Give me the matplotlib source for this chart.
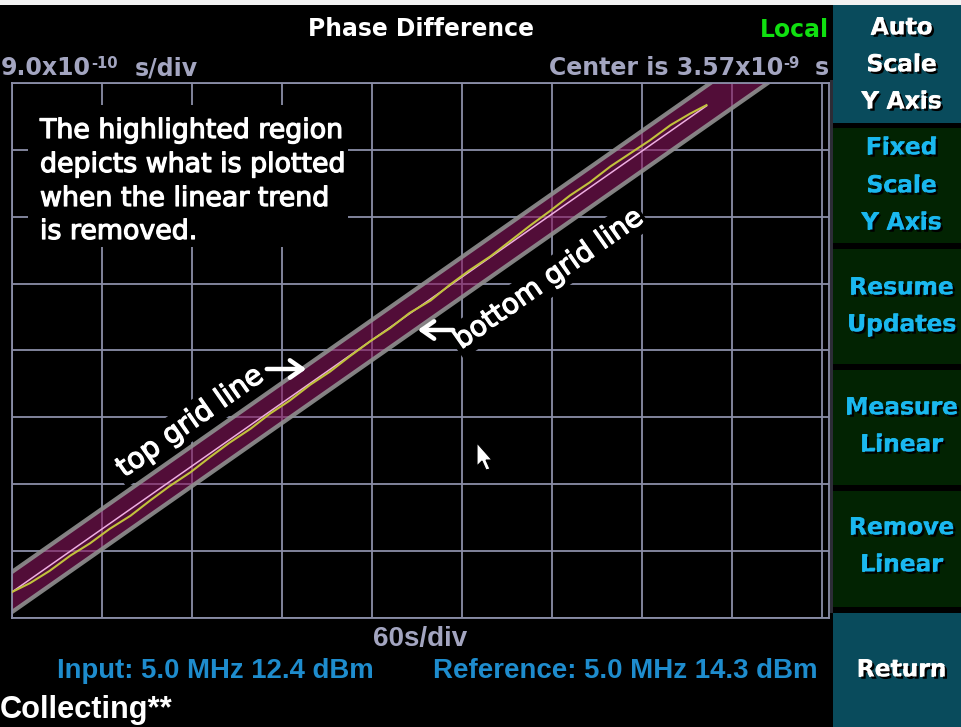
import numpy as np
import matplotlib
matplotlib.use("Agg")
import matplotlib.pyplot as plt
from matplotlib.patches import Rectangle, Polygon, FancyArrowPatch
import matplotlib.patheffects as pe

# ---- measurement record -------------------------------------------------
sec_per_div = 60          # horizontal scale
ns_per_div = 0.9          # vertical scale (9.0x10^-10 s/div)
center_ns = 3.57          # screen centre (3.57x10^-9 s)
n_xdiv, n_ydiv = 9, 8

fit_intercept_ns = 0.32   # linear trend of the phase difference
fit_slope_ns_per_s = 0.01413
band_halfwidth_ns = 0.27  # span that remains visible once the trend is removed
t_end_s = 463

times_s = [0, 12, 25, 39, 52, 65, 79, 92, 105, 119, 132, 145, 159, 172, 185,
           199, 212, 225, 239, 252, 265, 279, 292, 305, 319, 332, 345, 359,
           372, 385, 399, 412, 425, 439, 452, 463]
residual_ns = [0.00, -0.05, -0.07, -0.06, -0.08, -0.07, -0.09, -0.07, -0.06,
               -0.07, -0.05, -0.04, -0.05, -0.03, -0.04, -0.02, -0.03, -0.01,
               0.00, -0.01, 0.01, -0.02, 0.01, 0.02, 0.01, 0.03, 0.05, 0.06,
               0.08, 0.07, 0.09, 0.08, 0.07, 0.08, 0.05, 0.01]

title = "Phase Difference"
status = "Local"
input_info = "Input: 5.0 MHz 12.4 dBm"
reference_info = "Reference: 5.0 MHz 14.3 dBm"
state_info = "Collecting**"
buttons = [["Auto", "Scale", "Y Axis"], ["Fixed", "Scale", "Y Axis"],
           ["Resume", "Updates"], ["Measure", "Linear"],
           ["Remove", "Linear"], ["Return"]]
note_lines = ["The highlighted region", "depicts what is plotted",
              "when the linear trend", "is removed."]

# ---- colours ----------------------------------------------------------
GRID = "#8b8ea8"
LAV = "#a3a5c0"
BLUE = "#1e8ccd"
CYAN = "#1ab8ef"
TEAL = "#094b5c"
DKGREEN = "#022302"

W, H = 961, 727
fig = plt.figure(figsize=(W / 100, H / 100), dpi=100, facecolor="black")
R = fig.canvas.get_renderer()


def fx(x):
    return x / W


def fy(y):
    return 1 - y / H


def rect(x0, y0, x1, y1, color, z=1):
    fig.add_artist(Rectangle((fx(x0), fy(y1)), (x1 - x0) / W, (y1 - y0) / H,
                             transform=fig.transFigure, facecolor=color,
                             edgecolor="none", zorder=z))


def text(x, y, s, width=None, size=16, **kw):
    kw.setdefault("va", "baseline")
    t = fig.text(fx(x), fy(y), s, fontsize=size, **kw)
    if width is not None:
        w = t.get_window_extent(R).width
        t.set_fontsize(size * width / w)
    return t


def run_row(x, y, pieces, anchor="left", **kw):
    """pieces: (string, size, raise_px, gap_before_px)"""
    arts, widths = [], []
    for s, size, dy, gap in pieces:
        t = fig.text(0, 0, s, fontsize=size, va="baseline", ha="left", **kw)
        arts.append((t, dy, gap))
        widths.append(t.get_window_extent(R).width)
    total = sum(widths) + sum(g for _, _, g in arts)
    cur = x if anchor == "left" else x - total
    for (t, dy, gap), w in zip(arts, widths):
        cur += gap
        t.set_position((fx(cur), fy(y - dy)))
        cur += w


# ---- graticule ----------------------------------------------------------
ax = fig.add_axes([fx(12), fy(618), (829 - 12) / W, (618 - 83) / H])
ax.set_facecolor("black")
x_max = sec_per_div * n_xdiv * (829 - 12) / (822 - 12)
ax.set_xlim(0, x_max)
ax.set_ylim(center_ns - ns_per_div * n_ydiv / 2, center_ns + ns_per_div * n_ydiv / 2)
ax.set_xticks(np.arange(0, sec_per_div * n_xdiv + 1, sec_per_div))
ax.set_yticks(center_ns + ns_per_div * np.arange(-n_ydiv // 2, n_ydiv // 2 + 1))
ax.set_axisbelow(True)
ax.grid(True, color=GRID, lw=1.3)
ax.tick_params(length=0, labelbottom=False, labelleft=False)
for sp in ax.spines.values():
    sp.set_color(GRID)
    sp.set_linewidth(1.3)

# highlighted band around the linear trend
tb = np.array([-sec_per_div, x_max + sec_per_div])
fb = fit_intercept_ns + fit_slope_ns_per_s * tb
ax.fill_between(tb, fb - band_halfwidth_ns, fb + band_halfwidth_ns,
                color="#8a165f", alpha=0.6, lw=0, zorder=1)
for sgn in (-1, 1):
    ax.plot(tb, fb + sgn * band_halfwidth_ns, color="#909090", lw=3.0,
            alpha=0.9, zorder=2, solid_capstyle="butt")

# linear fit and measured phase difference
tf = np.array([0, t_end_s])
ax.plot(tf, fit_intercept_ns + fit_slope_ns_per_s * tf, color="#efaee2",
        lw=1.1, zorder=4)
t = np.array(times_s)
ax.plot(t, fit_intercept_ns + fit_slope_ns_per_s * t + np.array(residual_ns),
        color="#c2c23c", lw=1.5, zorder=5)

# ---- frame decorations --------------------------------------------------
rect(0, 0, W, 5, "#f2f2f2")
rect(830, 80, 833, 613, "#2c2c36")

# soft-key panel
panel = [(5, 123, TEAL), (128, 243, DKGREEN), (249, 364, DKGREEN),
         (370, 485, DKGREEN), (491, 607, DKGREEN), (613, 727, TEAL)]
label_centres = [[26, 63, 100], [146, 184, 221], [286, 323], [406, 443],
                 [526, 563], [668]]
btn_size = 16.8
for (y0, y1, c), labels, cy in zip(panel, buttons, label_centres):
    rect(833, y0, W, y1, c)
    col = "white" if c == TEAL else CYAN
    fx_btn = [pe.Stroke(linewidth=0.7, foreground=col),
              pe.withSimplePatchShadow(offset=(1.6, -1.6),
                                       shadow_rgbFace="black", alpha=1.0)]
    for s, yc in zip(labels, cy):
        text(902, yc + 8.5, s, size=btn_size, ha="center", color=col,
             family="DejaVu Sans", weight="bold", path_effects=fx_btn)

# header
text(421, 36, title, width=227, size=17, ha="center", color="white",
     family="DejaVu Sans", weight="bold")
text(829, 37, status, width=69, size=17, ha="right", color="#10e010",
     family="DejaVu Sans", weight="bold")
hdr = dict(color=LAV, family="DejaVu Sans", weight="bold")
run_row(1, 75, [("9.0x10", 17, 0, 0), ("-10", 10.6, 7, 0.5),
                ("s/div", 17, 0, 17)], anchor="left", **hdr)
run_row(829, 75, [("Center is 3.57x10", 17, 0, 0), ("-9", 10.6, 7, 0.5),
                  ("s", 17, 0, 15)], anchor="right", **hdr)

# footer
foot = dict(family="Liberation Sans", weight="bold")
text(420, 646, "60s/div", width=94, size=20, ha="center", color=LAV, **foot)
text(57, 678, input_info, width=316, size=20, ha="left", color=BLUE, **foot)
text(433, 678, reference_info, width=385, size=20, ha="left", color=BLUE, **foot)
text(0, 718, state_info, width=172, size=20, ha="left", color="white", **foot)

# ---- annotations --------------------------------------------------------
rect(28, 105, 348, 247, "black", z=2)
heavier = [pe.Stroke(linewidth=0.9, foreground="white"), pe.Normal()]
note = dict(family="DejaVu Sans", color="white", ha="left", zorder=4,
            path_effects=heavier)
t0 = text(40, 138, note_lines[0], width=303, size=20, **note)
fs = t0.get_fontsize()
for s, yb in zip(note_lines[1:], [172, 206, 239]):
    text(40, yb, s, size=fs, **note)

box = dict(boxstyle="square,pad=0.12", fc="black", ec="none")
for s, (xc, yc), L in [("top grid line", (190, 422), 172),
                       ("bottom grid line", (548, 279), 224)]:
    tt = text(xc, yc, s, width=L, size=20, ha="center", va="center",
              family="DejaVu Sans", color="white", bbox=box, zorder=4,
              path_effects=heavier)
    tt.set_rotation(35)
    tt.set_rotation_mode("anchor")

for (xa, ya), (xb, yb) in [((264, 369), (309, 369)), ((456, 330), (415, 330))]:
    fig.add_artist(FancyArrowPatch((fx(xa), fy(ya)), (fx(xb), fy(yb)),
                                   transform=fig.transFigure,
                                   arrowstyle="->,head_length=0.5,head_width=0.35",
                                   mutation_scale=18, lw=3.2, color="white",
                                   zorder=5))

# pointer
tip_x, tip_y = 477, 443
ptr = [(0, 0), (0, 23), (5, 18), (9, 27), (13, 26), (9, 17), (15, 17)]
fig.add_artist(Polygon([(fx(tip_x + dx), fy(tip_y + dy)) for dx, dy in ptr],
                       closed=True, transform=fig.transFigure, fc="white",
                       ec="black", lw=0.8, zorder=6))

fig.savefig("out.png", dpi=100, facecolor="black")
